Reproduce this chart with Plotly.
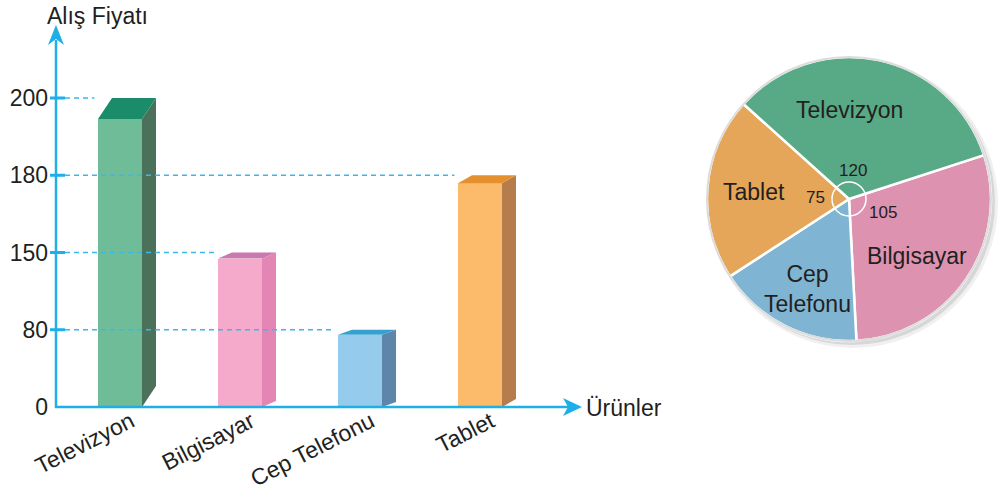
import plotly.graph_objects as go

W, H = 998, 493


def px(x):
    return x / W


def py(y):
    return 1 - y / H


# ---------------- data ----------------
categories = ["Televizyon", "Bilgisayar", "Cep Telefonu", "Tablet"]
prices = [200, 150, 80, 180]
y_tick_values = [0, 80, 150, 180, 200]
y_axis_title = "Alış Fiyatı"
x_axis_title = "Ürünler"

# pie (clockwise order starting from the Televizyon/Bilgisayar border)
pie_labels = ["Bilgisayar", "Cep Telefonu", "Tablet", "Televizyon"]
pie_angles = [105, 60, 75, 120]
pie_angle_text = ["105", "", "75", "120"]

# ---------------- styles ----------------
FONT = "Liberation Sans, Arial, Helvetica, sans-serif"
TXT = "#231f20"
FS = 23
AXIS_BLUE = "#1eaee8"
DASH_BLUE = "#3cb7ea"
front_colors = ["#6fbc98", "#f5aacb", "#95cbec", "#fcbb6b"]
side_colors = ["#4c715a", "#e386b5", "#5e86a8", "#b57d4c"]
cap_colors = ["#1b8c69", "#cc77ad", "#36a1d0", "#e5902f"]
cap_depth_px = [21, 6, 5, 8]
pie_colors = ["#dd92b0", "#7fb5d3", "#e5a659", "#58a985"]

# pixel geometry of the bar plot
X_LEFT, X_RIGHT = 56, 580
Y_BOTTOM, Y_TOP = 407, 28
PX_PER_CAT = 120.0
CAT0_PX = 120.0
PX_PER_LEVEL = 77.25
BAR_W = 44 / PX_PER_CAT
SIDE_DX = 14 / PX_PER_CAT
LABEL_SHIFT = 11 / PX_PER_CAT

x_range = [(X_LEFT - CAT0_PX) / PX_PER_CAT, (X_RIGHT - CAT0_PX) / PX_PER_CAT]
y_range = [0, (Y_BOTTOM - Y_TOP) / PX_PER_LEVEL]

fig = go.Figure()
shapes = []
annotations = []

levels = [y_tick_values.index(v) for v in prices]

for i, (cat, lvl) in enumerate(zip(categories, levels)):
    d = cap_depth_px[i] / PX_PER_LEVEL
    x0 = i - BAR_W / 2
    x1 = i + BAR_W / 2
    top_front = lvl - d
    # front face
    fig.add_trace(go.Bar(x=[i], y=[top_front], width=BAR_W,
                         marker=dict(color=front_colors[i], line=dict(width=0)),
                         hoverinfo="skip", showlegend=False))
    # side face
    fig.add_trace(go.Scatter(x=[x1, x1 + SIDE_DX, x1 + SIDE_DX, x1, x1],
                             y=[0, d, lvl, top_front, 0],
                             mode="lines", fill="toself", fillcolor=side_colors[i],
                             line=dict(width=0, color=side_colors[i]),
                             hoverinfo="skip", showlegend=False))
    # top cap
    fig.add_trace(go.Scatter(x=[x0, x1, x1 + SIDE_DX, x0 + SIDE_DX, x0],
                             y=[top_front, top_front, lvl, lvl, top_front],
                             mode="lines", fill="toself", fillcolor=cap_colors[i],
                             line=dict(width=0, color=cap_colors[i]),
                             hoverinfo="skip", showlegend=False))
    # dashed guide line from the axis to the bar
    shapes.append(dict(type="line", xref="x", yref="y",
                       x0=(65 - CAT0_PX) / PX_PER_CAT, x1=x0 - 0.03, y0=lvl, y1=lvl,
                       line=dict(color=DASH_BLUE, width=1.5, dash="5px,4px"),
                       layer="above"))

# tick marks crossing the y axis
for k, v in enumerate(y_tick_values):
    if v == 0:
        continue
    shapes.append(dict(type="line", xref="paper", yref="y",
                       x0=px(50), x1=px(65), y0=k, y1=k,
                       line=dict(color=AXIS_BLUE, width=3), layer="above"))

# axis lines + arrow heads
shapes.append(dict(type="line", xref="paper", yref="paper",
                   x0=px(56), x1=px(56), y0=py(408), y1=py(40),
                   line=dict(color=AXIS_BLUE, width=2.5), layer="above"))
shapes.append(dict(type="line", xref="paper", yref="paper",
                   x0=px(55), x1=px(570), y0=py(407), y1=py(407),
                   line=dict(color=AXIS_BLUE, width=2.5), layer="above"))


def path(points):
    s = "M " + " L ".join(f"{px(x):.5f},{py(y):.5f}" for x, y in points) + " Z"
    return s


shapes.append(dict(type="path", xref="paper", yref="paper",
                   path=path([(56, 25), (64, 45), (56, 39), (48, 45)]),
                   fillcolor=AXIS_BLUE, line=dict(width=0), layer="above"))
shapes.append(dict(type="path", xref="paper", yref="paper",
                   path=path([(582, 407), (563, 416), (568, 407), (563, 398)]),
                   fillcolor=AXIS_BLUE, line=dict(width=0), layer="above"))

# axis titles
annotations.append(dict(text=y_axis_title, xref="paper", yref="paper",
                        x=px(97), y=py(16), xanchor="center", yanchor="middle",
                        showarrow=False, font=dict(family=FONT, size=FS, color=TXT)))
annotations.append(dict(text=x_axis_title, xref="paper", yref="paper",
                        x=px(584), y=py(408), xanchor="left", yanchor="middle",
                        showarrow=False, font=dict(family=FONT, size=FS, color=TXT)))

# ---------------- pie ----------------
PIE_CX, PIE_CY, PIE_R = 849, 199, 142
for off, r_add, a in [(4, 3, 0.06), (3, 1, 0.10)]:
    shapes.append(dict(type="circle", xref="paper", yref="paper",
                       x0=px(PIE_CX - PIE_R - r_add + off), x1=px(PIE_CX + PIE_R + r_add + off),
                       y0=py(PIE_CY + PIE_R + r_add + off), y1=py(PIE_CY - PIE_R - r_add + off),
                       fillcolor=f"rgba(0,0,0,{a})", line=dict(width=0), layer="below"))

fig.add_trace(go.Pie(values=pie_angles, labels=pie_labels, sort=False,
                     direction="clockwise", rotation=72,
                     marker=dict(colors=pie_colors, line=dict(color="white", width=2.5)),
                     textinfo="none", hoverinfo="skip", showlegend=False,
                     domain=dict(x=[px(PIE_CX - PIE_R), px(PIE_CX + PIE_R)],
                                 y=[py(PIE_CY + PIE_R), py(PIE_CY - PIE_R)])))

shapes.append(dict(type="circle", xref="paper", yref="paper",
                   x0=px(PIE_CX - PIE_R), x1=px(PIE_CX + PIE_R),
                   y0=py(PIE_CY + PIE_R), y1=py(PIE_CY - PIE_R),
                   line=dict(color="#dcdcdc", width=2), layer="above"))
shapes.append(dict(type="circle", xref="paper", yref="paper",
                   x0=px(PIE_CX - 17), x1=px(PIE_CX + 17),
                   y0=py(PIE_CY + 17), y1=py(PIE_CY - 17),
                   line=dict(color="white", width=1.5), layer="above"))

pie_label_pos = {"Bilgisayar": (917, 256), "Cep Telefonu": (807, 289),
                 "Tablet": (754, 192), "Televizyon": (849, 110)}
pie_angle_pos = {"Bilgisayar": (883, 212), "Tablet": (815, 198), "Televizyon": (853, 170)}
for lab, ang in zip(pie_labels, pie_angle_text):
    x, y = pie_label_pos[lab]
    annotations.append(dict(text=lab.replace(" ", "<br>"), xref="paper", yref="paper",
                            x=px(x), y=py(y), xanchor="center", yanchor="middle",
                            showarrow=False, font=dict(family=FONT, size=FS, color=TXT)))
    if ang:
        x, y = pie_angle_pos[lab]
        annotations.append(dict(text=ang, xref="paper", yref="paper",
                                x=px(x), y=py(y), xanchor="center", yanchor="middle",
                                showarrow=False, font=dict(family=FONT, size=17, color=TXT)))

fig.update_layout(
    width=W, height=H, margin=dict(l=0, r=0, t=0, b=0, autoexpand=False),
    paper_bgcolor="white", plot_bgcolor="rgba(0,0,0,0)",
    bargap=0, shapes=shapes, annotations=annotations,
    xaxis=dict(domain=[px(X_LEFT), px(X_RIGHT)], range=x_range, automargin=False,
               tickmode="array", tickvals=[i + LABEL_SHIFT for i in range(len(categories))],
               ticktext=categories, tickangle=-27, ticks="", ticklabelstandoff=-4,
               showgrid=False, zeroline=False, showline=False,
               tickfont=dict(family=FONT, size=FS, color=TXT), fixedrange=True),
    yaxis=dict(domain=[py(Y_BOTTOM), py(Y_TOP)], range=y_range, automargin=False,
               tickmode="array", tickvals=list(range(len(y_tick_values))),
               ticktext=[str(v) for v in y_tick_values], ticks="",
               ticklabelstandoff=7,
               showgrid=False, zeroline=False, showline=False,
               tickfont=dict(family=FONT, size=FS, color=TXT), fixedrange=True),
)

fig.write_html("out.html")
